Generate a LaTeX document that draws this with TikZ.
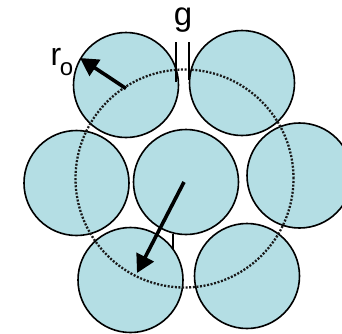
\documentclass[tikz,border=0pt]{standalone}
\usepackage{fontspec}
\setmainfont{Liberation Sans}
\usetikzlibrary{arrows.meta}
\definecolor{ballfill}{RGB}{180,222,228}
\begin{document}
\begin{tikzpicture}[x=1pt,y=-1pt,
  ball/.style={circle,draw=black,fill=ballfill,line width=1.6pt,minimum size=105pt,inner sep=0pt},
  orbit/.style={circle,draw=black!90,line width=2.3pt,dash pattern=on 2pt off 1.6pt,minimum size=218pt,inner sep=0pt},
  vec/.style={line width=3.6pt,-{Triangle[length=18pt,width=19pt]}},
  gapmark/.style={line width=1.5pt},
  lbl/.style={inner sep=0pt,anchor=base}]
\useasboundingbox (0,0) rectangle (342,333);
% circles
\node[ball] (tl) at (126,85) {};
\node[ball] (tr) at (242,83) {};
\node[ball] (ml) at (76.5,183) {};
\node[ball] (c0) at (186,182) {};
\node[ball] (mr) at (299.5,175.5) {};
\node[ball] (bl) at (130.5,280) {};
\node[ball] (br) at (247,276) {};
% dotted orbit
\node[orbit] (orb) at (184.5,178.5) {};
% gap marks
\coordinate (g1a) at (176,42);
\coordinate (g1b) at (176,82);
\coordinate (g2a) at (189,42);
\coordinate (g2b) at (189,80);
\draw[gapmark] (g1a) -- (g1b);
\draw[gapmark] (g2a) -- (g2b);
\coordinate (s1a) at (173,233.5);
\coordinate (s1b) at (173,249);
\draw[gapmark] (s1a) -- (s1b);
% arrows
\coordinate (ta) at (126,88.5);
\coordinate (tb) at (80,58);
\draw[vec] (ta) -- (tb);
\coordinate (ca) at (184,182);
\coordinate (cb) at (137,273);
\draw[vec] (ca) -- (cb);
% labels
\node[lbl,font=\fontsize{33}{33}\selectfont] (glab) at (183,25) {g};
\node[lbl,font=\fontsize{32}{32}\selectfont] (rlab) at (56,65) {r};
\node[lbl,font=\fontsize{24}{24}\selectfont] (olab) at (66.5,75) {o};
\end{tikzpicture}
\end{document}
